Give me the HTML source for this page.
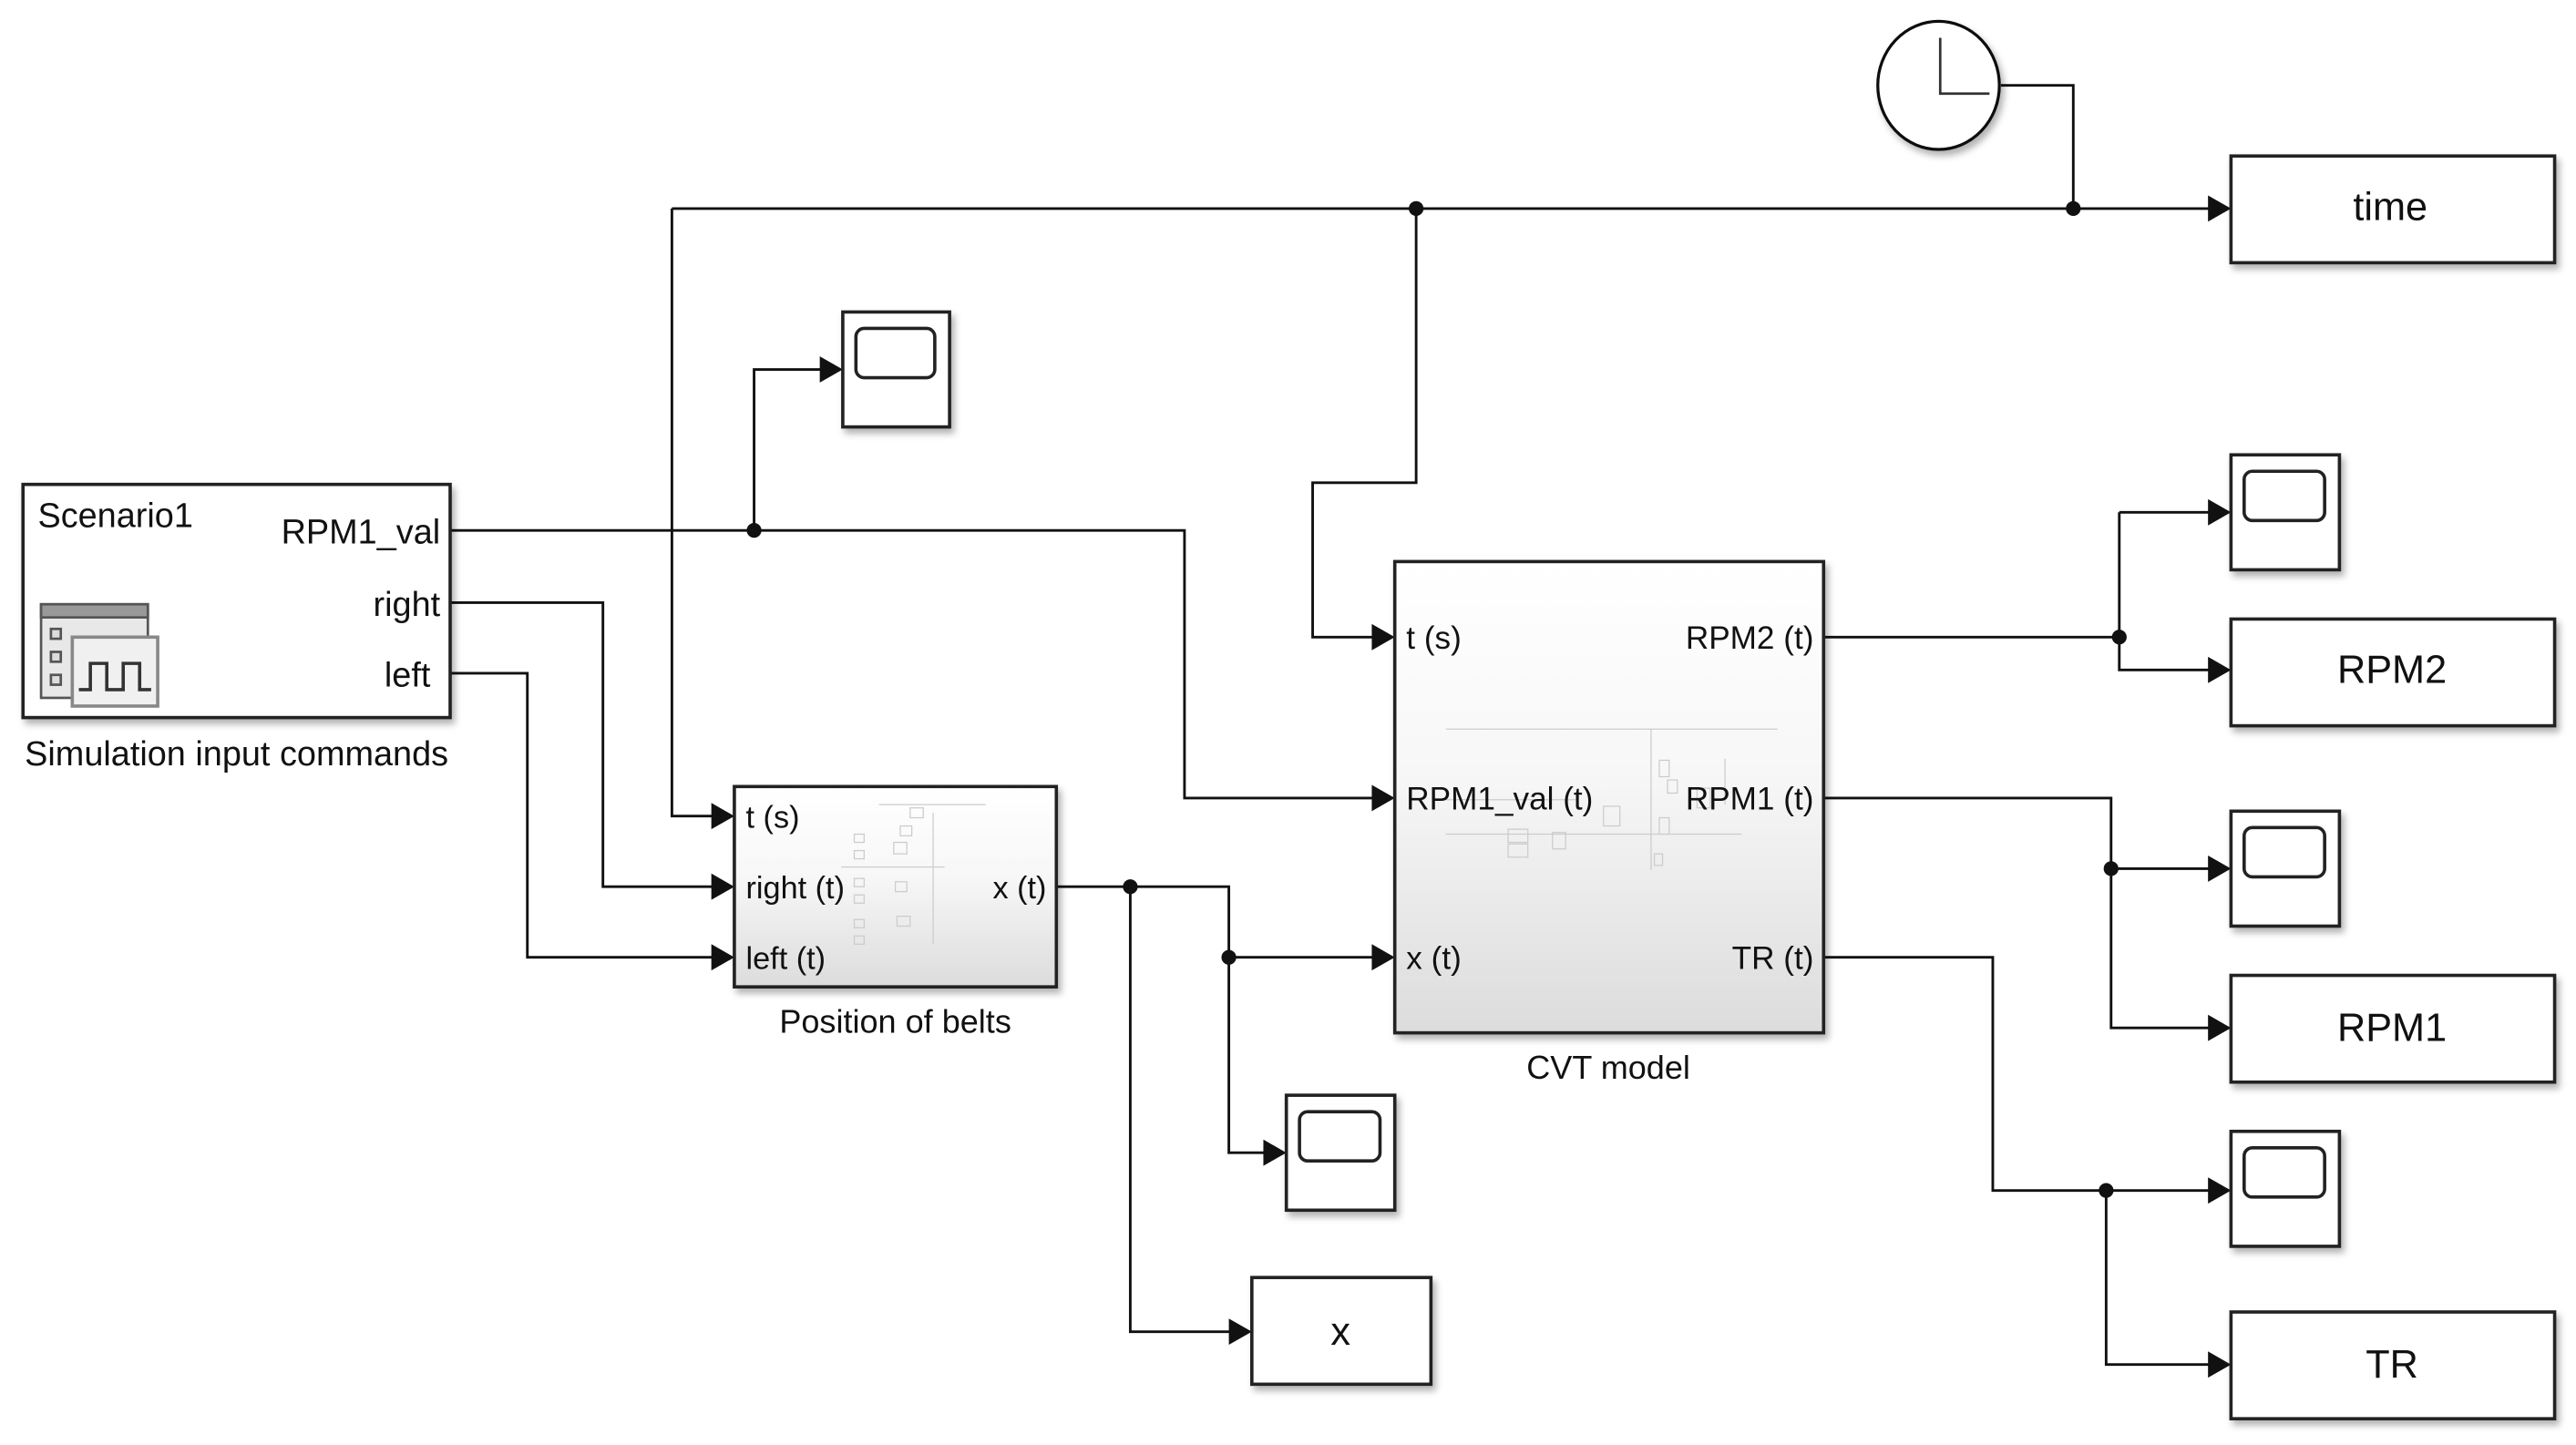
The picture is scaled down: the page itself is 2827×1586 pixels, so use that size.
<!DOCTYPE html>
<html><head><meta charset="utf-8"><style>
html,body{margin:0;padding:0;background:#fff;}
svg{display:block;}
text{font-family:"Liberation Sans",Arial,sans-serif;fill:#111;}
</style></head><body>
<svg width="2827" height="1586" viewBox="0 0 1568 880" preserveAspectRatio="none" xmlns="http://www.w3.org/2000/svg">
<defs>
<linearGradient id="g" x1="0" y1="0" x2="0" y2="1">
<stop offset="0" stop-color="#ffffff"/><stop offset="0.45" stop-color="#f7f7f7"/><stop offset="1" stop-color="#dcdcdc"/>
</linearGradient>
<filter id="sh" x="-10%" y="-10%" width="130%" height="130%"><feDropShadow dx="2" dy="3" stdDeviation="2" flood-color="#000" flood-opacity="0.3"/></filter>
</defs>

<g fill="none" stroke="#111" stroke-width="1.6">
<polyline points="1218,52 1262,52 1262,127"/>
<polyline points="409,127 1346,127"/>
<polyline points="409,127 409,497 436,497"/>
<polyline points="459,323 459,225 502,225"/>
<polyline points="274,323 721,323 721,486 838,486"/>
<polyline points="274,367 367,367 367,540 436,540"/>
<polyline points="274,410 321,410 321,583 436,583"/>
<polyline points="643,540 748,540 748,702 772,702"/>
<polyline points="748,583 838,583"/>
<polyline points="688,540 688,811 751,811"/>
<polyline points="862,127 862,294 799,294 799,388 838,388"/>
<polyline points="1110,388 1290,388"/>
<polyline points="1290,312 1290,408 1346,408"/>
<polyline points="1290,312 1346,312"/>
<polyline points="1110,486 1285,486 1285,626 1346,626"/>
<polyline points="1285,529 1346,529"/>
<polyline points="1110,583 1213,583 1213,725 1346,725"/>
<polyline points="1282,725 1282,831 1346,831"/>
</g>
<g fill="#111">
<circle cx="862" cy="127" r="4.5"/><circle cx="1262" cy="127" r="4.5"/>
<circle cx="459" cy="323" r="4.5"/><circle cx="688" cy="540" r="4.5"/>
<circle cx="748" cy="583" r="4.5"/><circle cx="1290" cy="388" r="4.5"/>
<circle cx="1285" cy="529" r="4.5"/><circle cx="1282" cy="725" r="4.5"/>
</g>
<g fill="#111">
<polygon points="1344,119 1358,127 1344,135"/>
<polygon points="499,217 513,225 499,233"/>
<polygon points="433,489 447,497 433,505"/>
<polygon points="433,532 447,540 433,548"/>
<polygon points="433,575 447,583 433,591"/>
<polygon points="835,380 849,388 835,396"/>
<polygon points="835,478 849,486 835,494"/>
<polygon points="835,575 849,583 835,591"/>
<polygon points="769,694 783,702 769,710"/>
<polygon points="748,803 762,811 748,819"/>
<polygon points="1344,304 1358,312 1344,320"/>
<polygon points="1344,400 1358,408 1344,416"/>
<polygon points="1344,521 1358,529 1344,537"/>
<polygon points="1344,618 1358,626 1344,634"/>
<polygon points="1344,717 1358,725 1344,733"/>
<polygon points="1344,823 1358,831 1344,839"/>
</g>

<ellipse cx="1180" cy="52" rx="37" ry="39" fill="#fff" stroke="#111" stroke-width="1.8" filter="url(#sh)"/>
<polyline points="1181,23 1181,57 1211,57" fill="none" stroke="#333" stroke-width="1.5"/>

<g fill="#fff" stroke="#222" stroke-width="2" filter="url(#sh)">
<rect x="1358" y="95" width="197" height="65"/>
<rect x="1358" y="377" width="197" height="65"/>
<rect x="1358" y="594" width="197" height="65"/>
<rect x="1358" y="799" width="197" height="65"/>
<rect x="762" y="778" width="109" height="65"/>
<rect x="513" y="190" width="65" height="70"/>
<rect x="1358" y="277" width="66" height="70"/>
<rect x="1358" y="494" width="66" height="70"/>
<rect x="1358" y="689" width="66" height="70"/>
<rect x="783" y="667" width="66" height="70"/>
</g>
<g fill="none" stroke="#222" stroke-width="2">
<rect x="521" y="200" width="48" height="30" rx="5"/>
<rect x="1366" y="287" width="49" height="30" rx="5"/>
<rect x="1366" y="504" width="49" height="30" rx="5"/>
<rect x="1366" y="699" width="49" height="30" rx="5"/>
<rect x="791" y="677" width="49" height="30" rx="5"/>
</g>
<g font-size="24" text-anchor="middle">
<text x="1455" y="134">time</text>
<text x="1456" y="416">RPM2</text>
<text x="1456" y="634">RPM1</text>
<text x="1456" y="839">TR</text>
<text x="816" y="819">x</text>
</g>

<rect x="14" y="295" width="260" height="142" fill="#fff" stroke="#222" stroke-width="2" filter="url(#sh)"/>
<text x="23" y="321" font-size="21">Scenario1</text>
<g font-size="21" text-anchor="end">
<text x="268" y="331">RPM1_val</text>
<text x="268" y="375">right</text>
<text x="262" y="418">left</text>
</g>
<text x="144" y="466" font-size="21" text-anchor="middle">Simulation input commands</text>
<g stroke="#555" stroke-width="1.5">
<rect x="25" y="368" width="65" height="57" fill="#e8e8e8"/>
<rect x="25" y="368" width="65" height="8" fill="#999"/>
<rect x="31" y="383" width="6" height="6" fill="#ddd"/>
<rect x="31" y="397" width="6" height="6" fill="#ddd"/>
<rect x="31" y="411" width="6" height="6" fill="#ddd"/>
<rect x="44" y="388" width="52" height="42" fill="#f0f0f0" stroke="#888" stroke-width="2"/>
<polyline points="48,420 55,420 55,404 65,404 65,420 75,420 75,404 85,404 85,420 92,420" fill="none" stroke="#333" stroke-width="2"/>
</g>

<rect x="447" y="479" width="196" height="122" fill="url(#g)" stroke="#222" stroke-width="2" filter="url(#sh)"/>
<g stroke="#ccc" stroke-width="0.7" fill="none">
<polyline points="535,490 600,490"/><rect x="554" y="492" width="8" height="6"/><rect x="548" y="503" width="7" height="6"/>
<rect x="520" y="508" width="6" height="5"/><rect x="520" y="518" width="6" height="5"/><rect x="544" y="513" width="8" height="7"/>
<polyline points="512,528 575,528"/><rect x="520" y="535" width="6" height="5"/><rect x="520" y="545" width="6" height="5"/>
<rect x="545" y="537" width="7" height="6"/><rect x="546" y="558" width="8" height="6"/><rect x="520" y="560" width="6" height="5"/>
<rect x="520" y="570" width="6" height="5"/><polyline points="568,495 568,575"/>
</g>
<g font-size="19">
<text x="454" y="504">t (s)</text>
<text x="454" y="547">right (t)</text>
<text x="454" y="590">left (t)</text>
<text x="637" y="547" text-anchor="end">x (t)</text>
</g>
<text x="545" y="629" font-size="20" text-anchor="middle">Position of belts</text>

<rect x="849" y="342" width="261" height="287" fill="url(#g)" stroke="#222" stroke-width="2" filter="url(#sh)"/>
<g stroke="#ccc" stroke-width="0.7" fill="none">
<polyline points="880,444 1082,444"/><polyline points="880,487 960,487"/><polyline points="880,508 1060,508"/>
<rect x="918" y="505" width="12" height="8"/><rect x="918" y="514" width="12" height="8"/><rect x="945" y="507" width="8" height="10"/>
<rect x="976" y="491" width="10" height="12"/><rect x="1010" y="463" width="6" height="10"/><rect x="1015" y="475" width="6" height="8"/>
<rect x="1033" y="480" width="8" height="12"/><rect x="1010" y="498" width="6" height="10"/><rect x="1007" y="520" width="5" height="7"/>
<polyline points="1005,444 1005,530"/><polyline points="1050,462 1050,490"/>
</g>
<g font-size="19.5">
<text x="856" y="395">t (s)</text>
<text x="856" y="493">RPM1_val (t)</text>
<text x="856" y="590">x (t)</text>
<text x="1104" y="395" text-anchor="end">RPM2 (t)</text>
<text x="1104" y="493" text-anchor="end">RPM1 (t)</text>
<text x="1104" y="590" text-anchor="end">TR (t)</text>
</g>
<text x="979" y="657" font-size="20" text-anchor="middle">CVT model</text>
</svg>
</body></html>
